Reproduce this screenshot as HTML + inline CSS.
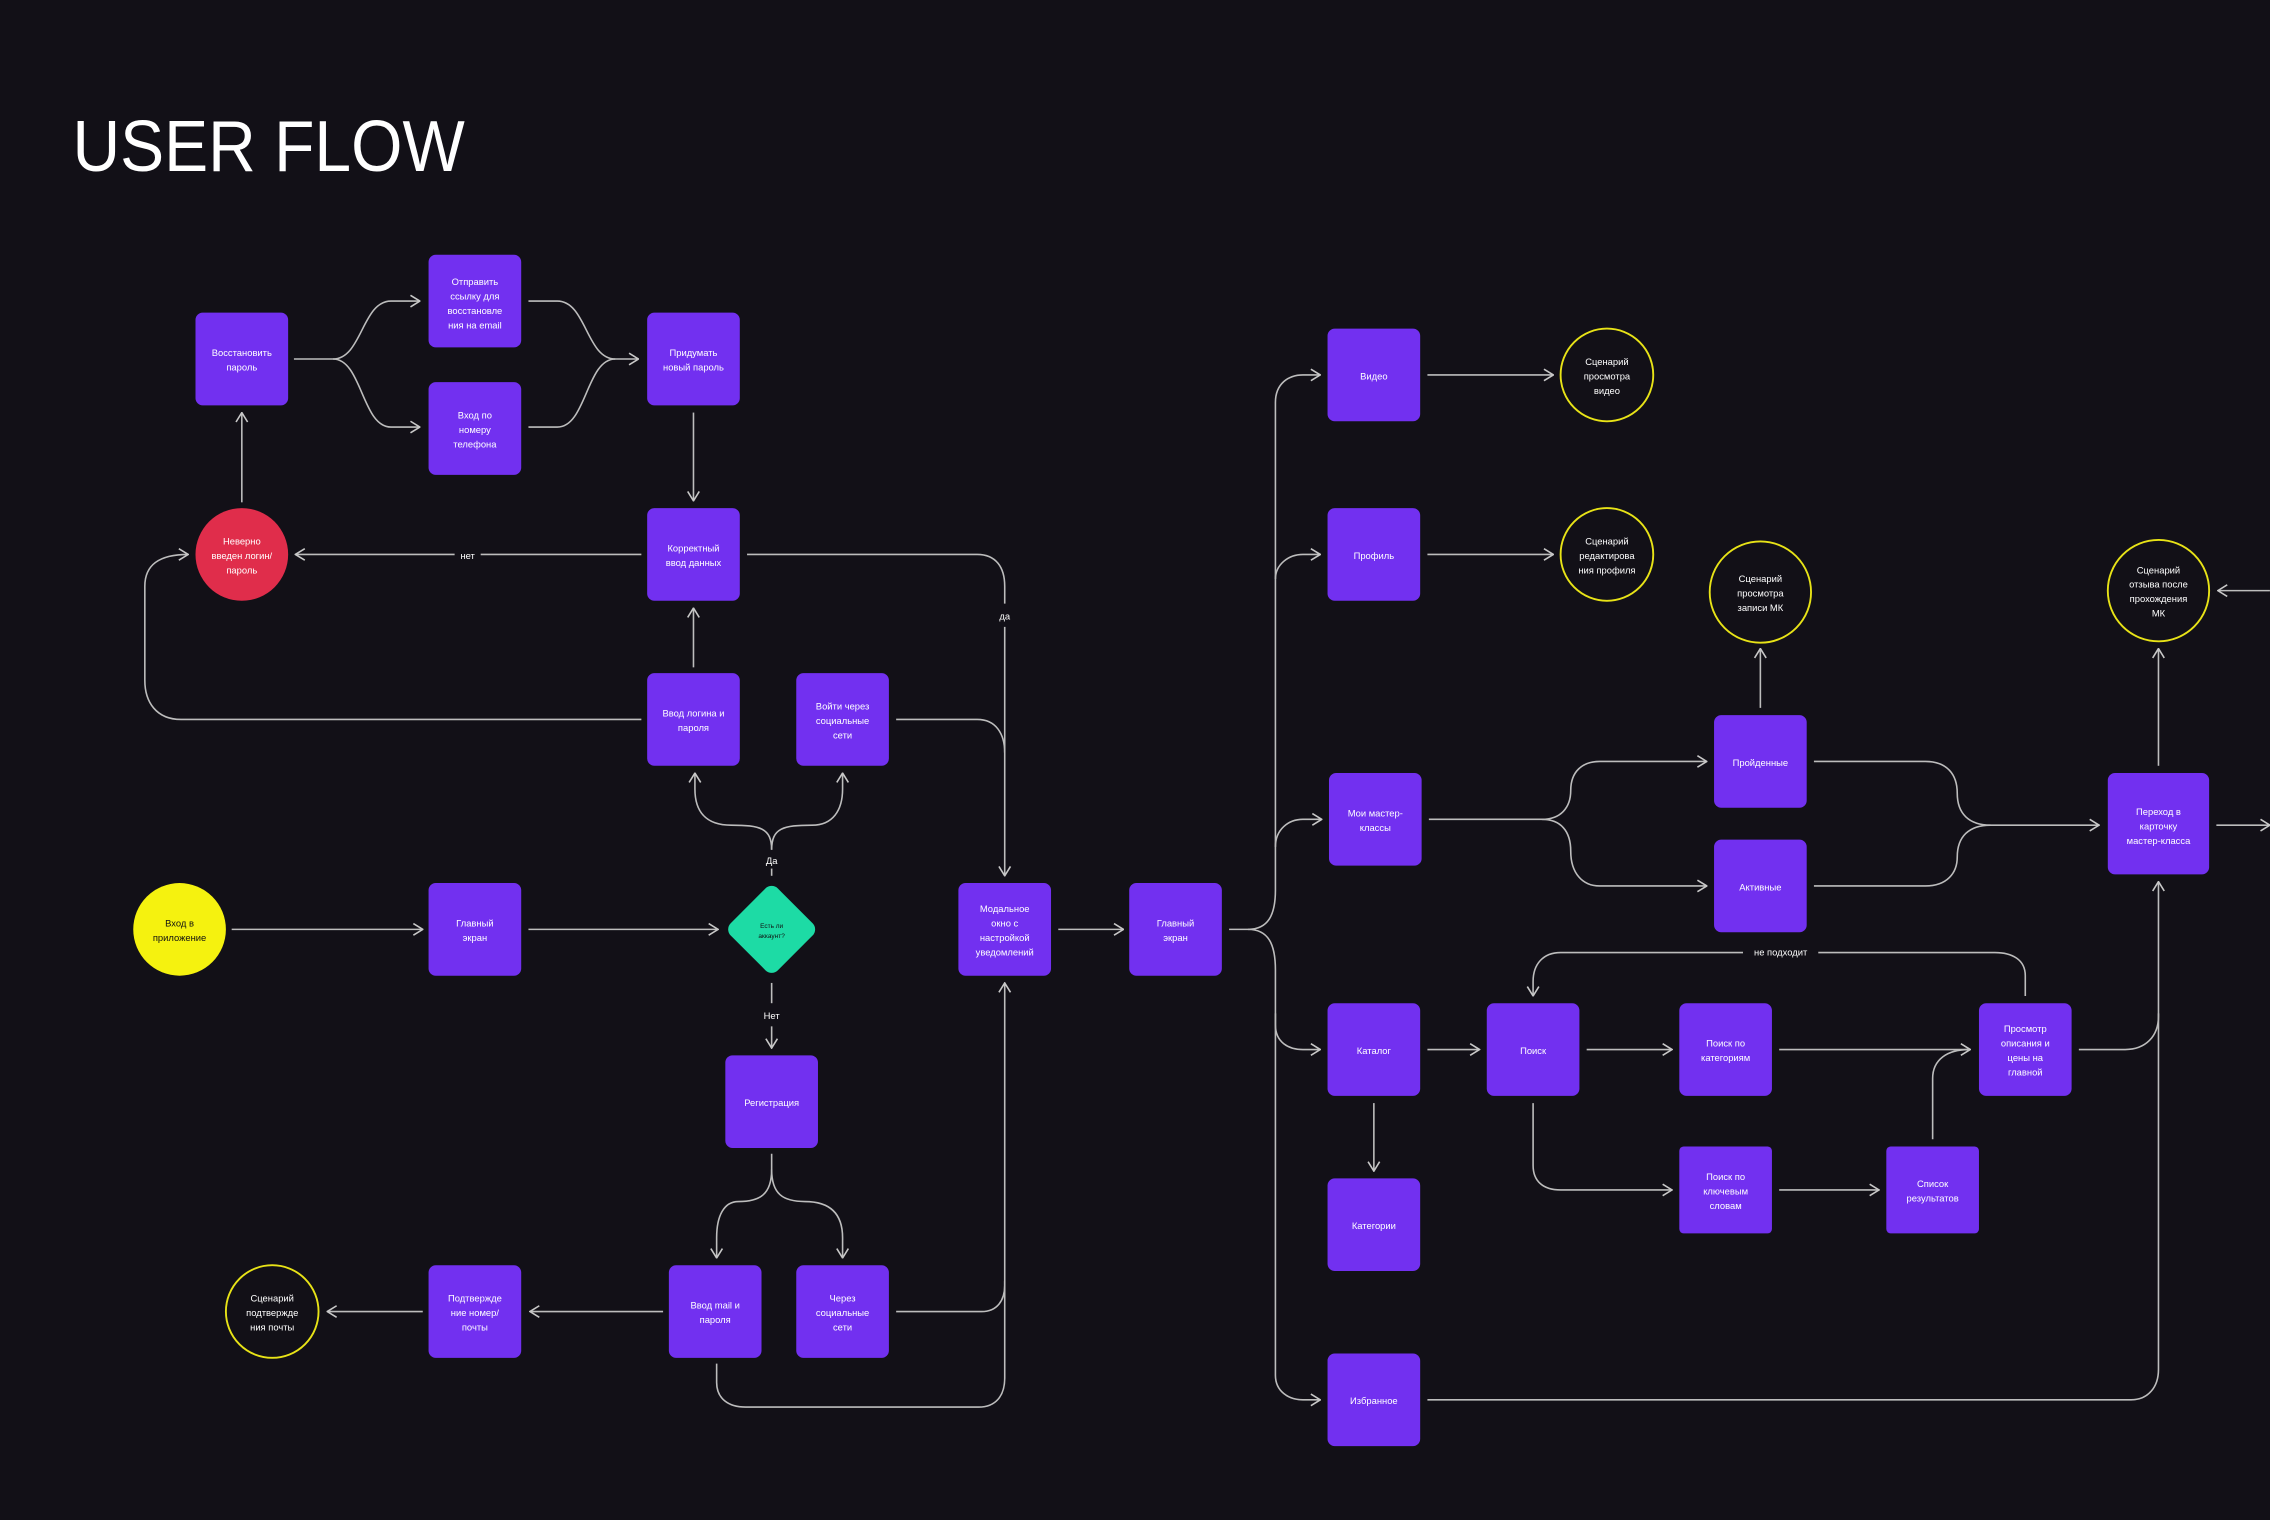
<!DOCTYPE html>
<html><head><meta charset="utf-8"><style>
html,body{margin:0;padding:0;background:#121017;}
svg{display:block}
text{font-family:"Liberation Sans","DejaVu Sans",sans-serif;}
</style></head><body>
<svg width="2270" height="1520" viewBox="0 0 1568 1050" xmlns="http://www.w3.org/2000/svg">
<defs>
<marker id="a" viewBox="0 0 8 10" refX="7.5" refY="5" markerWidth="8" markerHeight="10" markerUnits="userSpaceOnUse" orient="auto">
<path d="M1,1 L7.5,5 L1,9" fill="none" stroke="#c8c8c8" stroke-width="1.1"/>
</marker>
</defs>
<rect width="1568" height="1050" fill="#121017"/>
<text x="50" y="118" fill="#fff" font-size="50" textLength="271" lengthAdjust="spacingAndGlyphs">USER FLOW</text>

<g fill="none" stroke="#bdbdbd" stroke-width="1.1">
<path d="M203,248 H230 C250,248 250,208 270,208 H290" marker-end="url(#a)"/>
<path d="M230,248 C250,248 250,295 270,295 H290" marker-end="url(#a)"/>
<path d="M365,208 H385 C405,208 405,248 425,248 H441" marker-end="url(#a)"/>
<path d="M365,295 H385 C405,295 405,248 425,248"/>
<path d="M479,285 V346" marker-end="url(#a)"/>
<path d="M443,383 H332"/>
<path d="M314,383 H204" marker-end="url(#a)"/>
<path d="M167,347 V285" marker-end="url(#a)"/>
<path d="M443,497 H125 C108,497 100,485 100,470 V405 C100,390 110,383 130,383" marker-end="url(#a)"/>
<path d="M479,461 V420" marker-end="url(#a)"/>
<path d="M516,383 H675 C688,383 694,392 694,405 V417"/>
<path d="M694,433 V605" marker-end="url(#a)"/>
<path d="M619,497 H675 C688,497 694,507 694,520"/>
<path d="M533,605 V600"/>
<path d="M533,587 C533,572 525,570 505,570 C487,570 480,560 480,545 V534" marker-end="url(#a)"/>
<path d="M533,587 C533,572 541,570 561,570 C575,570 582,560 582,545 V534" marker-end="url(#a)"/>
<path d="M160,642 H292" marker-end="url(#a)"/>
<path d="M365,642 H496" marker-end="url(#a)"/>
<path d="M533,679 V693"/>
<path d="M533,709 V724" marker-end="url(#a)"/>
<path d="M533,797 V808 C533,825 525,830 510,830 C500,830 495,840 495,855 V869" marker-end="url(#a)"/>
<path d="M533,808 C533,825 541,830 556,830 C575,830 582,840 582,855 V869" marker-end="url(#a)"/>
<path d="M458,906 H366" marker-end="url(#a)"/>
<path d="M292,906 H226" marker-end="url(#a)"/>
<path d="M619,906 H678 C689,906 694,898 694,888 V679" marker-end="url(#a)"/>
<path d="M495,942 V955 C495,966 503,972 515,972 H676 C688,972 694,964 694,952 V885"/>
<path d="M731,642 H776" marker-end="url(#a)"/>
<path d="M849,642 H862 C876,642 881,632 881,615 V278 C881,265 890,259 900,259 H912" marker-end="url(#a)"/>
<path d="M881,400 C881,390 890,383 900,383 H912" marker-end="url(#a)"/>
<path d="M881,585 C881,573 890,566 900,566 H913" marker-end="url(#a)"/>
<path d="M862,642 C876,642 881,652 881,670 V708 C881,720 890,725 900,725 H912" marker-end="url(#a)"/>
<path d="M881,700 V950 C881,961 890,967 900,967 H912" marker-end="url(#a)"/>
<path d="M986,259 H1073" marker-end="url(#a)"/>
<path d="M986,383 H1073" marker-end="url(#a)"/>
<path d="M987,566 H1065 C1078,566 1085,558 1085,546 C1085,533 1093,526 1105,526 H1179" marker-end="url(#a)"/>
<path d="M1065,566 C1078,566 1085,574 1085,588 C1085,603 1093,612 1105,612 H1179" marker-end="url(#a)"/>
<path d="M1216,489 V448" marker-end="url(#a)"/>
<path d="M1253,526 H1330 C1345,526 1352,535 1352,548 C1352,562 1360,570 1375,570 H1450" marker-end="url(#a)"/>
<path d="M1253,612 H1330 C1345,612 1352,603 1352,592 C1352,578 1360,570 1375,570"/>
<path d="M1491,529 V448" marker-end="url(#a)"/>
<path d="M1531,570 H1568" marker-end="url(#a)"/>
<path d="M1568,408 H1532" marker-end="url(#a)"/>
<path d="M986,725 H1022" marker-end="url(#a)"/>
<path d="M949,762 V809" marker-end="url(#a)"/>
<path d="M1096,725 H1155" marker-end="url(#a)"/>
<path d="M1229,725 H1361" marker-end="url(#a)"/>
<path d="M1059,762 V805 C1059,816 1066,822 1078,822 H1155" marker-end="url(#a)"/>
<path d="M1229,822 H1298" marker-end="url(#a)"/>
<path d="M1335,787 V745 C1335,732 1345,725 1360,725"/>
<path d="M1399,688 V674 C1399,663 1390,658 1378,658 H1256"/>
<path d="M1204,658 H1078 C1066,658 1059,666 1059,678 V688" marker-end="url(#a)"/>
<path d="M1436,725 H1468 C1482,725 1491,716 1491,702 V609" marker-end="url(#a)"/>
<path d="M986,967 H1472 C1484,967 1491,958 1491,946 V700"/>
</g>

<g fill="#fff" font-size="6.5" text-anchor="middle">
<text x="323" y="386">нет</text>
<text x="694" y="428">да</text>
<text x="533" y="597">Да</text>
<text x="533" y="704">Нет</text>
<text x="1230" y="660">не подходит</text>
</g>

<g fill="#7230f0">
<rect x="135" y="216" width="64" height="64" rx="5"/>
<rect x="296" y="176" width="64" height="64" rx="5"/>
<rect x="296" y="264" width="64" height="64" rx="5"/>
<rect x="447" y="216" width="64" height="64" rx="5"/>
<rect x="447" y="351" width="64" height="64" rx="5"/>
<rect x="447" y="465" width="64" height="64" rx="5"/>
<rect x="550" y="465" width="64" height="64" rx="5"/>
<rect x="296" y="610" width="64" height="64" rx="5"/>
<rect x="662" y="610" width="64" height="64" rx="5"/>
<rect x="501" y="729" width="64" height="64" rx="5"/>
<rect x="462" y="874" width="64" height="64" rx="5"/>
<rect x="550" y="874" width="64" height="64" rx="5"/>
<rect x="296" y="874" width="64" height="64" rx="5"/>
<rect x="780" y="610" width="64" height="64" rx="5"/>
<rect x="917" y="227" width="64" height="64" rx="5"/>
<rect x="917" y="351" width="64" height="64" rx="5"/>
<rect x="918" y="534" width="64" height="64" rx="5"/>
<rect x="1184" y="494" width="64" height="64" rx="5"/>
<rect x="1184" y="580" width="64" height="64" rx="5"/>
<rect x="1456" y="534" width="70" height="70" rx="5"/>
<rect x="917" y="693" width="64" height="64" rx="5"/>
<rect x="917" y="814" width="64" height="64" rx="5"/>
<rect x="1027" y="693" width="64" height="64" rx="5"/>
<rect x="1160" y="693" width="64" height="64" rx="5"/>
<rect x="1367" y="693" width="64" height="64" rx="5"/>
<rect x="1160" y="792" width="64" height="60" rx="3"/>
<rect x="1303" y="792" width="64" height="60" rx="3"/>
<rect x="917" y="935" width="64" height="64" rx="5"/>
</g>
<circle cx="167" cy="383" r="32" fill="#e02d4b"/>
<circle cx="124" cy="642" r="32" fill="#f5f20f"/>
<rect x="510" y="619" width="46" height="46" rx="6" fill="#1ddba5" transform="rotate(45 533 642)"/>
<g fill="none" stroke="#e8e317" stroke-width="1.3">
<circle cx="188" cy="906" r="32"/>
<circle cx="1110" cy="259" r="32"/>
<circle cx="1110" cy="383" r="32"/>
<circle cx="1216" cy="409" r="35"/>
<circle cx="1491" cy="408" r="35"/>
</g>

<g fill="#fff" font-size="6.5" text-anchor="middle">
<text x="167" y="246">Восстановить<tspan x="167" dy="10">пароль</tspan></text>
<text x="328" y="197">Отправить<tspan x="328" dy="10">ссылку для</tspan><tspan x="328" dy="10">восстановле</tspan><tspan x="328" dy="10">ния на  email</tspan></text>
<text x="328" y="289">Вход по<tspan x="328" dy="10">номеру</tspan><tspan x="328" dy="10">телефона</tspan></text>
<text x="479" y="246">Придумать<tspan x="479" dy="10">новый пароль</tspan></text>
<text x="167" y="376">Неверно<tspan x="167" dy="10">введен логин/</tspan><tspan x="167" dy="10">пароль</tspan></text>
<text x="479" y="381">Корректный<tspan x="479" dy="10">ввод данных</tspan></text>
<text x="479" y="495">Ввод логина и<tspan x="479" dy="10">пароля</tspan></text>
<text x="582" y="490">Войти через<tspan x="582" dy="10">социальные</tspan><tspan x="582" dy="10">сети</tspan></text>
<text x="328" y="640">Главный<tspan x="328" dy="10">экран</tspan></text>
<text x="694" y="630">Модальное<tspan x="694" dy="10">окно с</tspan><tspan x="694" dy="10">настройкой</tspan><tspan x="694" dy="10">уведомлений</tspan></text>
<text x="533" y="764">Регистрация</text>
<text x="494" y="904">Ввод mail и<tspan x="494" dy="10">пароля</tspan></text>
<text x="582" y="899">Через<tspan x="582" dy="10">социальные</tspan><tspan x="582" dy="10">сети</tspan></text>
<text x="328" y="899">Подтвержде<tspan x="328" dy="10">ние номер/</tspan><tspan x="328" dy="10">почты</tspan></text>
<text x="812" y="640">Главный<tspan x="812" dy="10">экран</tspan></text>
<text x="949" y="262">Видео</text>
<text x="949" y="386">Профиль</text>
<text x="950" y="564">Мои мастер-<tspan x="950" dy="10">классы</tspan></text>
<text x="1216" y="529">Пройденные</text>
<text x="1216" y="615">Активные</text>
<text x="1491" y="563">Переход в<tspan x="1491" dy="10">карточку</tspan><tspan x="1491" dy="10">мастер-класса</tspan></text>
<text x="949" y="728">Каталог</text>
<text x="949" y="849">Категории</text>
<text x="1059" y="728">Поиск</text>
<text x="1192" y="723">Поиск по<tspan x="1192" dy="10">категориям</tspan></text>
<text x="1399" y="713">Просмотр<tspan x="1399" dy="10">описания и</tspan><tspan x="1399" dy="10">цены на</tspan><tspan x="1399" dy="10">главной</tspan></text>
<text x="1192" y="815">Поиск по<tspan x="1192" dy="10">ключевым</tspan><tspan x="1192" dy="10">словам</tspan></text>
<text x="1335" y="820">Список<tspan x="1335" dy="10">результатов</tspan></text>
<text x="949" y="970">Избранное</text>
<text x="1110" y="252">Сценарий<tspan x="1110" dy="10">просмотра</tspan><tspan x="1110" dy="10">видео</tspan></text>
<text x="1110" y="376">Сценарий<tspan x="1110" dy="10">редактирова</tspan><tspan x="1110" dy="10">ния профиля</tspan></text>
<text x="1216" y="402">Сценарий<tspan x="1216" dy="10">просмотра</tspan><tspan x="1216" dy="10">записи МК</tspan></text>
<text x="1491" y="396">Сценарий<tspan x="1491" dy="10">отзыва после</tspan><tspan x="1491" dy="10">прохождения</tspan><tspan x="1491" dy="10">МК</tspan></text>
<text x="188" y="899">Сценарий<tspan x="188" dy="10">подтвержде</tspan><tspan x="188" dy="10">ния почты</tspan></text>
</g>
<g fill="#111" text-anchor="middle">
<text x="124" y="640" font-size="6.5">Вход в<tspan x="124" dy="10">приложение</tspan></text>
<text x="533" y="641" font-size="4.5">Есть ли<tspan x="533" dy="7">аккаунт?</tspan></text>
</g>
</svg>
</body></html>
